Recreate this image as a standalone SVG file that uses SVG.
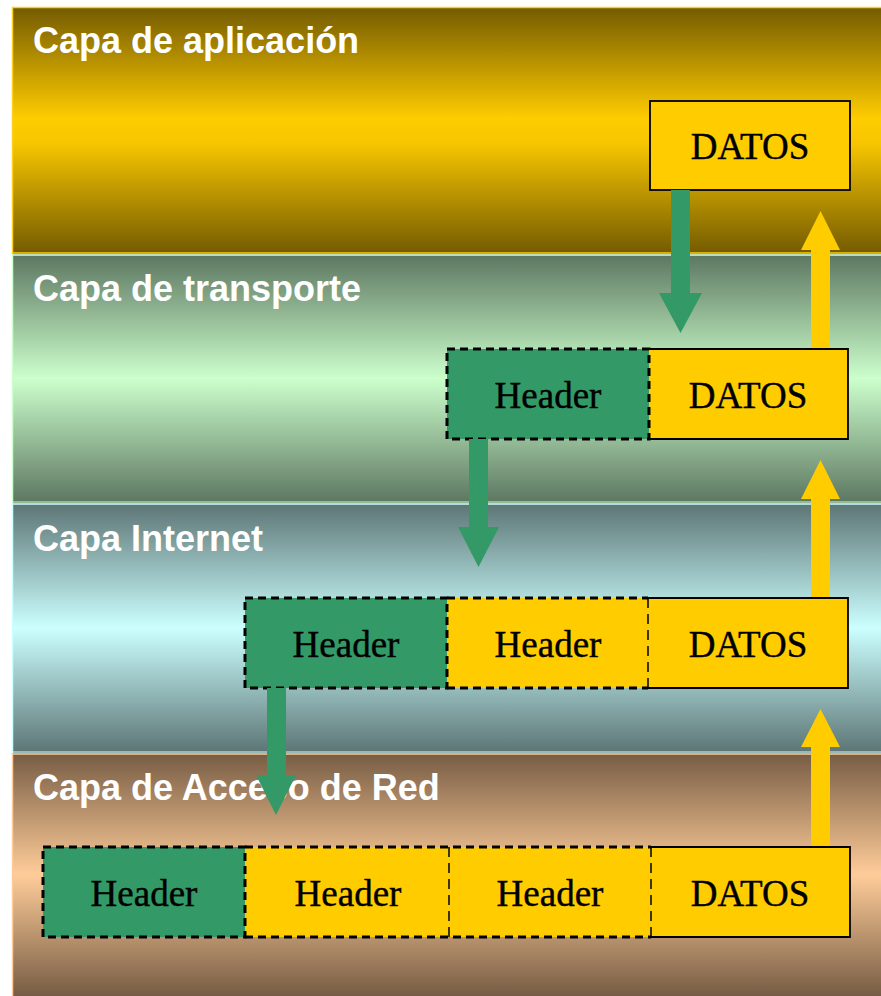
<svg xmlns="http://www.w3.org/2000/svg" width="881" height="996" viewBox="0 0 881 996">
<defs>
<linearGradient id="g1" x1="0" y1="0" x2="0" y2="1"><stop offset="0" stop-color="#735a00"/><stop offset="0.45" stop-color="#ffcc00"/><stop offset="0.55" stop-color="#f8c600"/><stop offset="1" stop-color="#735a00"/></linearGradient>
<linearGradient id="g2" x1="0" y1="0" x2="0" y2="1"><stop offset="0" stop-color="#5c7660"/><stop offset="0.5" stop-color="#ccffcc"/><stop offset="1" stop-color="#5c7660"/></linearGradient>
<linearGradient id="g3" x1="0" y1="0" x2="0" y2="1"><stop offset="0" stop-color="#5c7474"/><stop offset="0.5" stop-color="#ccffff"/><stop offset="1" stop-color="#5c7474"/></linearGradient>
<linearGradient id="g4" x1="0" y1="0" x2="0" y2="1"><stop offset="0" stop-color="#765c44"/><stop offset="0.5" stop-color="#ffcc99"/><stop offset="1" stop-color="#765c44"/></linearGradient>
</defs>
<style>
.title{font-family:"Liberation Sans",Arial,sans-serif;font-weight:bold;font-size:36px;fill:#ffffff}
.lbl{font-family:"Liberation Serif","Times New Roman",serif;font-size:37px;fill:#000000;text-anchor:middle;stroke:#000;stroke-width:0.4}
.green{fill:#339966}
.yellow{fill:#ffcc00}
.thick{stroke:#000;stroke-width:3;stroke-dasharray:8,5;fill:none}
.thin{stroke:#000;stroke-width:1.5;stroke-dasharray:10,6;fill:none}
.solid{stroke:#000;stroke-width:1.8;fill:none}
</style>
<rect width="881" height="996" fill="#ffffff"/>
<g id="bands">
<rect x="12" y="7" width="869" height="247" fill="url(#g1)"/>
<rect x="12" y="254" width="869" height="249" fill="url(#g2)"/>
<rect x="12" y="503" width="869" height="250" fill="url(#g3)"/>
<rect x="12" y="753" width="869" height="243" fill="url(#g4)"/>
<line x1="12" y1="7.5" x2="881" y2="7.5" stroke="#ffd21a" stroke-width="1.5"/>
<line x1="12.5" y1="7" x2="12.5" y2="254" stroke="#ffd21a" stroke-width="1.5"/>
<line x1="12" y1="253" x2="881" y2="253" stroke="#ffcc00" stroke-width="1.5"/>
<line x1="12" y1="255" x2="881" y2="255" stroke="#d8ffd8" stroke-width="1.5"/>
<line x1="12.5" y1="254" x2="12.5" y2="503" stroke="#ccffcc" stroke-width="1.5"/>
<line x1="12" y1="502" x2="881" y2="502" stroke="#ccffcc" stroke-width="1.2"/>
<line x1="12" y1="504" x2="881" y2="504" stroke="#ccffff" stroke-width="1.5"/>
<line x1="12.5" y1="503" x2="12.5" y2="753" stroke="#ccffff" stroke-width="1.5"/>
<line x1="12" y1="752" x2="881" y2="752" stroke="#ccffff" stroke-width="1.2"/>
<line x1="12" y1="754" x2="881" y2="754" stroke="#ffcc99" stroke-width="1.5"/>
<line x1="12.5" y1="753" x2="12.5" y2="996" stroke="#ffcc99" stroke-width="1.5"/>
</g>
<g id="titles">
<text class="title" x="33" y="53">Capa de aplicación</text>
<text class="title" x="33" y="301">Capa de transporte</text>
<text class="title" x="33" y="551">Capa Internet</text>
<text class="title" x="33" y="800">Capa de Acceso de Red</text>
</g>
<g id="app-datos">
<rect class="yellow" x="650" y="101" width="200" height="89" stroke="#000" stroke-width="1.8"/>
<text class="lbl" x="750" y="159">DATOS</text>
</g>
<g id="transport-row">
<rect class="yellow" x="649" y="349" width="199" height="90"/>
<path class="solid" d="M649,349 H848 V439 H649"/>
<rect class="green" x="447" y="349" width="202" height="90"/>
<rect class="thick" x="447" y="349" width="202" height="90"/>
<text class="lbl" x="548" y="408">Header</text>
<text class="lbl" x="748" y="408">DATOS</text>
</g>
<g id="internet-row">
<rect class="yellow" x="447" y="598" width="401" height="90"/>
<path class="solid" d="M648,598 H848 V688 H648"/>
<path class="thick" d="M447,598 H648 M447,688 H648"/>
<line class="thin" x1="648" y1="598" x2="648" y2="688"/>
<rect class="green" x="245" y="598" width="202" height="90"/>
<rect class="thick" x="245" y="598" width="202" height="90"/>
<text class="lbl" x="346" y="657">Header</text>
<text class="lbl" x="548" y="657">Header</text>
<text class="lbl" x="748" y="657">DATOS</text>
</g>
<g id="network-row">
<rect class="yellow" x="245" y="847" width="605" height="90"/>
<path class="solid" d="M651,847 H850 V937 H651"/>
<path class="thick" d="M245,847 H651 M245,937 H651"/>
<line class="thin" x1="449" y1="847" x2="449" y2="937"/>
<line class="thin" x1="651" y1="847" x2="651" y2="937"/>
<rect class="green" x="43" y="847" width="202" height="90"/>
<rect class="thick" x="43" y="847" width="202" height="90"/>
<text class="lbl" x="144" y="906">Header</text>
<text class="lbl" x="348" y="906">Header</text>
<text class="lbl" x="550" y="906">Header</text>
<text class="lbl" x="750" y="906">DATOS</text>
</g>
<g id="connectors">
<polygon class="green" points="671,190 690,190 690,293 702,293 680.5,333 659,293 671,293"/>
<polygon class="green" points="469,439 488,439 488,527 499,527 478.5,567 458,527 469,527"/>
<polygon class="green" points="267,688 286,688 286,775 296,775 276,815 256,775 267,775"/>
<polygon class="yellow" points="811,348 830,348 830,250 840,250 820.5,211 801,250 811,250"/>
<polygon class="yellow" points="811,597 830,597 830,499 840,499 820.5,460 801,499 811,499"/>
<polygon class="yellow" points="811,846 830,846 830,747 840,747 820.5,709 801,747 811,747"/>
</g>
</svg>
